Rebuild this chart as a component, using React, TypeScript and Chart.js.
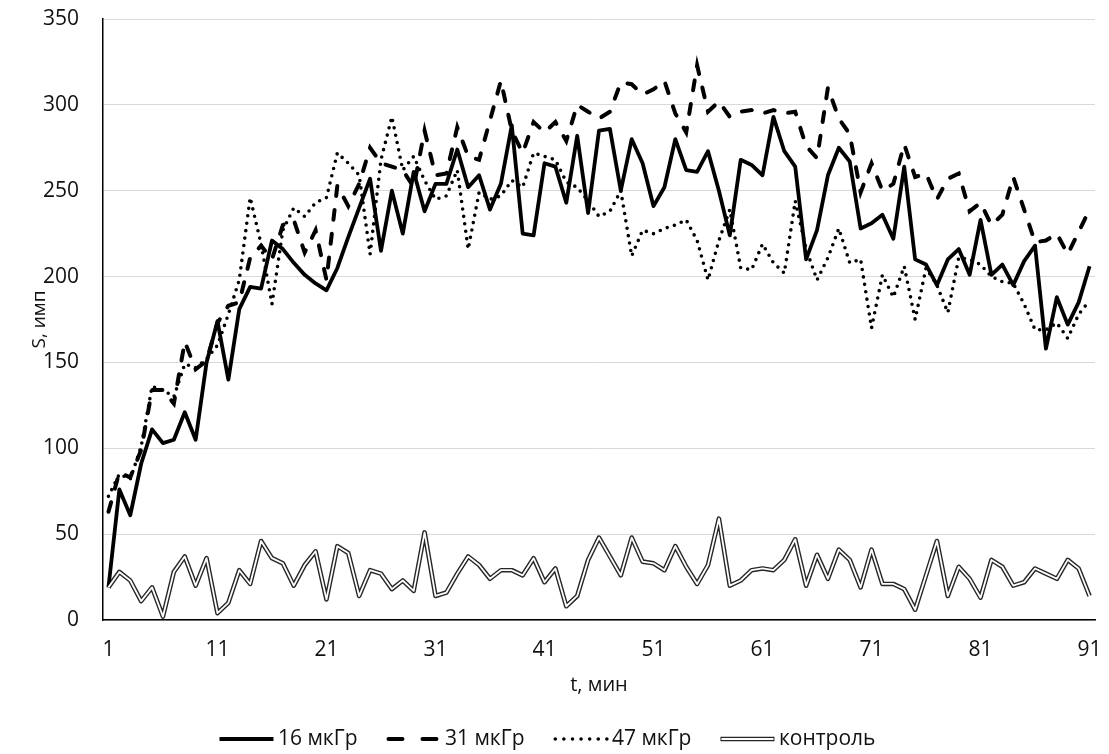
import React, { useEffect, useRef } from "react";
import { Chart, registerables } from "chart.js";

Chart.register(...registerables);

const minutes = [
  1, 2, 3, 4, 5, 6, 7, 8, 9, 10, 11, 12, 13, 14, 15, 16, 17, 18, 19, 20,
  21, 22, 23, 24, 25, 26, 27, 28, 29, 30, 31, 32, 33, 34, 35, 36, 37, 38, 39, 40,
  41, 42, 43, 44, 45, 46, 47, 48, 49, 50, 51, 52, 53, 54, 55, 56, 57, 58, 59, 60,
  61, 62, 63, 64, 65, 66, 67, 68, 69, 70, 71, 72, 73, 74, 75, 76, 77, 78, 79, 80,
  81, 82, 83, 84, 85, 86, 87, 88, 89, 90, 91,
].map(String);

const shownTicks = ["1", "11", "21", "31", "41", "51", "61", "71", "81", "91"];

const dose16 = [
  19, 76, 61, 91, 111, 103, 105, 121, 105, 150,
  174, 140, 181, 194, 193, 221, 216, 208, 201, 196,
  192, 205, 223, 240, 257, 215, 250, 225, 261, 238,
  254, 254, 274, 252, 259, 239, 254, 288, 225, 224,
  266, 264, 243, 282, 237, 285, 286, 250, 280, 266,
  241, 252, 280, 262, 261, 273, 250, 224, 268, 265,
  259, 293, 273, 264, 210, 227, 259, 275, 267, 228,
  231, 236, 222, 264, 210, 207, 195, 210, 216, 201,
  233, 201, 207, 195, 209, 218, 158, 188, 172, 185,
  206,
];

const dose31 = [
  63, 86, 83, 99, 134, 134, 126, 162, 146, 151,
  173, 183, 185, 211, 218, 210, 230, 233, 214, 227,
  198, 253, 241, 254, 275, 266, 264, 262, 252, 285,
  259, 260, 287, 270, 268, 291, 314, 285, 272, 290,
  284, 290, 279, 300, 296, 292, 296, 313, 312, 306,
  309, 314, 295, 284, 323, 296, 302, 293, 296, 297,
  295, 297, 295, 296, 276, 269, 310, 292, 283, 249,
  266, 250, 254, 277, 258, 260, 245, 257, 260, 238,
  243, 230, 236, 258, 239, 220, 221, 225, 213, 226,
  239,
];

const dose47 = [
  72, 85, 82, 101, 136, 134, 130, 149, 147, 152,
  160, 178, 198, 246, 219, 184, 227, 240, 235, 243,
  246, 272, 266, 259, 213, 268, 293, 262, 270, 256,
  245, 247, 262, 216, 249, 245, 247, 256, 252, 272,
  270, 268, 255, 252, 244, 235, 238, 250, 212, 227,
  225, 228, 230, 233, 221, 198, 221, 239, 205, 204,
  219, 208, 202, 244, 216, 198, 211, 228, 208, 210,
  170, 201, 188, 206, 175, 205, 195, 179, 211, 210,
  207, 200, 197, 196, 184, 169, 169, 173, 164, 178,
  186,
];

const control = [
  19, 28, 23, 11, 19, 2, 28, 37, 20, 36,
  4, 10, 29, 21, 46, 36, 33, 20, 32, 40,
  12, 43, 39, 14, 29, 27, 18, 23, 17, 51,
  14, 16, 27, 37, 32, 24, 29, 29, 26, 36,
  22, 30, 8, 14, 35, 48, 37, 26, 48, 34,
  33, 29, 43, 31, 21, 32, 59, 20, 23, 29,
  30, 29, 35, 47, 20, 38, 24, 41, 35, 19,
  41, 21, 21, 18, 6, 26, 46, 14, 31, 24,
  13, 35, 31, 20, 22, 30, 27, 24, 35, 30,
  14,
];

const seriesNames = ["16 мкГр", "31 мкГр", "47 мкГр", "контроль"];
const yTitle = "S, имп";
const xTitle = "t, мин";

const FONT = "'Open Sans', 'Noto Sans', sans-serif";
const TEXT = "#111111";
const LEGEND_BOX = 48;
const SAMPLE_LEN = 54;

// Draws the legend line samples (incl. the double line of the control series).
const legendSamples = {
  id: "legendSamples",
  afterDraw(chart: any) {
    const legend = chart.legend;
    if (!legend || !legend.legendHitBoxes || !legend.legendItems) return;
    const ctx = chart.ctx;
    legend.legendItems.forEach((item: any, i: number) => {
      const hb = legend.legendHitBoxes[i];
      const ds = chart.data.datasets[item.datasetIndex];
      if (!hb || !ds) return;
      const cy = hb.top + hb.height / 2;
      const x0 = hb.left;
      const x1 = hb.left + SAMPLE_LEN;
      ctx.save();
      ctx.strokeStyle = ds.borderColor;
      ctx.lineWidth = ds.borderWidth;
      ctx.lineCap = ds.borderCapStyle || "butt";
      ctx.setLineDash(ds.legendDash || ds.borderDash || []);
      ctx.beginPath();
      ctx.moveTo(x0 + (ctx.lineCap === "round" ? ds.borderWidth / 2 : 0), cy);
      ctx.lineTo(x1, cy);
      ctx.stroke();
      if (ds.label === seriesNames[3]) {
        ctx.strokeStyle = "#ffffff";
        ctx.lineWidth = 1.8;
        ctx.setLineDash([]);
        ctx.beginPath();
        ctx.moveTo(x0 + 1, cy);
        ctx.lineTo(x1 - 1, cy);
        ctx.stroke();
      }
      ctx.restore();
    });
  },
};

export default function App() {
  const ref = useRef<HTMLCanvasElement | null>(null);

  useEffect(() => {
    if (!ref.current) return;
    const chart = new Chart(ref.current, {
      type: "line",
      data: {
        labels: minutes,
        datasets: [
          {
            label: seriesNames[0],
            data: dose16,
            borderColor: "#000000",
            backgroundColor: "#000000",
            borderWidth: 3.8,
            borderJoinStyle: "round",
            pointRadius: 0,
            tension: 0,
          },
          {
            label: seriesNames[1],
            data: dose31,
            borderColor: "#000000",
            backgroundColor: "#000000",
            borderWidth: 4,
            borderDash: [10, 14],
            legendDash: [14, 20],
            borderCapStyle: "round",
            pointRadius: 0,
            tension: 0,
          },
          {
            label: seriesNames[2],
            data: dose47,
            borderColor: "#000000",
            backgroundColor: "#000000",
            borderWidth: 3.6,
            borderDash: [0, 7.5],
            legendDash: [0, 8.6],
            borderCapStyle: "round",
            pointRadius: 0,
            tension: 0,
          },
          {
            label: seriesNames[3],
            data: control,
            borderColor: "#262626",
            backgroundColor: "#262626",
            borderWidth: 4.6,
            borderJoinStyle: "round",
            pointRadius: 0,
            tension: 0,
          },
          {
            label: "",
            data: control,
            borderColor: "#ffffff",
            backgroundColor: "#ffffff",
            borderWidth: 1.8,
            borderJoinStyle: "round",
            pointRadius: 0,
            tension: 0,
            order: -1,
          },
        ] as any,
      },
      options: {
        responsive: false,
        animation: false,
        layout: { padding: { left: 0, right: 14, top: 19, bottom: 0 } },
        plugins: {
          tooltip: { enabled: false },
          legend: {
            position: "bottom",
            maxHeight: 54.5,
            labels: {
              usePointStyle: true,
              pointStyleWidth: LEGEND_BOX,
              padding: 29,
              color: TEXT,
              font: { family: FONT, size: 21 },
              generateLabels: (ch: any) =>
                ch.data.datasets
                  .map((ds: any, i: number) => ({
                    text: ds.label,
                    fillStyle: "rgba(0,0,0,0)",
                    strokeStyle: "rgba(0,0,0,0)",
                    lineWidth: 0,
                    pointStyle: "line",
                    hidden: false,
                    fontColor: TEXT,
                    datasetIndex: i,
                  }))
                  .filter((it: any) => it.text),
            },
          },
        },
        scales: {
          x: {
            type: "category",
            offset: true,
            grid: { display: false, drawTicks: false },
            border: { display: true, color: "#000000", width: 1.5 },
            ticks: {
              autoSkip: false,
              maxRotation: 0,
              padding: 17,
              color: TEXT,
              font: { family: FONT, size: 21 },
              callback: function (this: any, _v: any, idx: number) {
                const lab = minutes[idx];
                return shownTicks.includes(lab) ? lab : "";
              },
            },
            title: {
              display: true,
              text: xTitle,
              color: TEXT,
              font: { family: FONT, size: 20 },
              padding: { top: 0, bottom: 2.5 },
            },
            afterFit: (s: any) => {
              s.height = 79.5;
              s.paddingLeft = 0;
              s.paddingRight = 0;
            },
          },
          y: {
            min: 0,
            max: 350,
            grid: { color: "#d9d9d9", lineWidth: 1, drawTicks: false },
            border: { display: true, color: "#000000", width: 1.5 },
            ticks: {
              stepSize: 50,
              padding: 24,
              color: TEXT,
              font: { family: FONT, size: 21 },
            },
            title: {
              display: true,
              text: yTitle,
              color: TEXT,
              font: { family: FONT, size: 19 },
              padding: { top: 28, bottom: 0 },
            },
            afterFit: (s: any) => {
              s.width = 103;
              s.paddingTop = 0;
              s.paddingBottom = 0;
            },
          },
        },
      } as any,
      plugins: [legendSamples],
    });
    return () => chart.destroy();
  }, []);

  return (
    <div style={{ position: "absolute", left: 0, top: 0, width: 1109, height: 754, background: "#fff" }}>
      <canvas ref={ref} width={1109} height={754} style={{ display: "block" }} />
    </div>
  );
}
